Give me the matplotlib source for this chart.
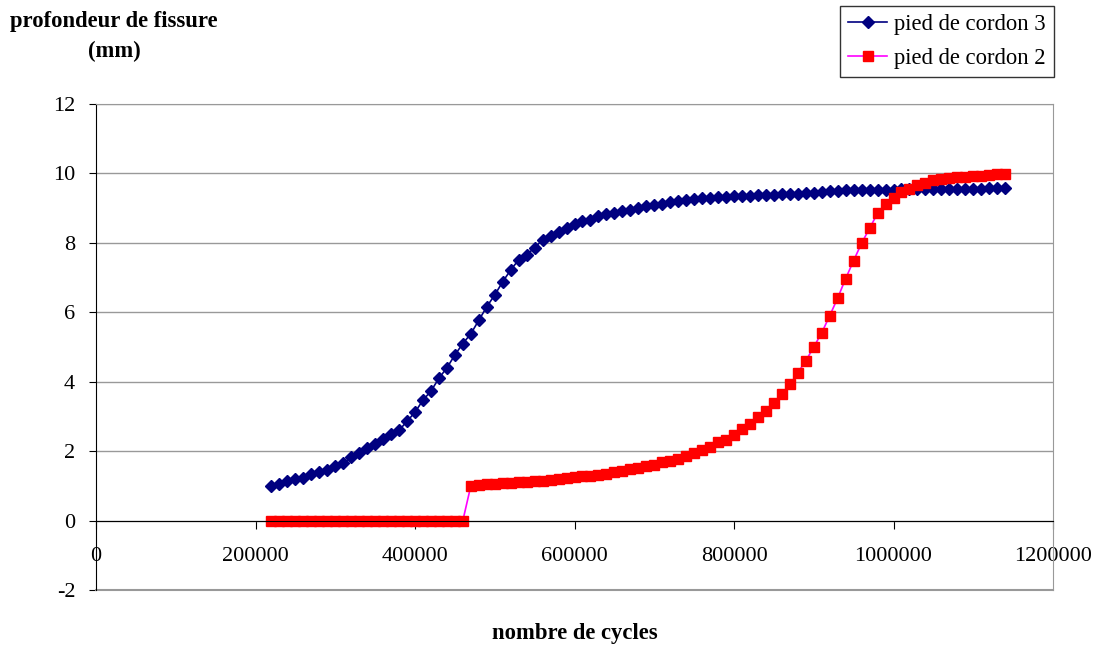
import matplotlib
matplotlib.use("Agg")
import matplotlib.pyplot as plt

plt.rcParams['font.family'] = ['Liberation Serif', 'DejaVu Serif']
plt.rcParams['axes.unicode_minus'] = False

# nombre de cycles (one reading every 10000 cycles)
cycles = [220000, 230000, 240000, 250000, 260000, 270000, 280000, 290000, 300000, 310000,
          320000, 330000, 340000, 350000, 360000, 370000, 380000, 390000, 400000, 410000,
          420000, 430000, 440000, 450000, 460000, 470000, 480000, 490000, 500000, 510000,
          520000, 530000, 540000, 550000, 560000, 570000, 580000, 590000, 600000, 610000,
          620000, 630000, 640000, 650000, 660000, 670000, 680000, 690000, 700000, 710000,
          720000, 730000, 740000, 750000, 760000, 770000, 780000, 790000, 800000, 810000,
          820000, 830000, 840000, 850000, 860000, 870000, 880000, 890000, 900000, 910000,
          920000, 930000, 940000, 950000, 960000, 970000, 980000, 990000, 1000000, 1010000,
          1020000, 1030000, 1040000, 1050000, 1060000, 1070000, 1080000, 1090000, 1100000,
          1110000, 1120000, 1130000, 1140000]

# profondeur de fissure (mm)
cordon3 = [1.01, 1.04, 1.13, 1.19, 1.24, 1.33, 1.40, 1.47, 1.56, 1.65,
           1.82, 1.94, 2.08, 2.20, 2.34, 2.49, 2.60, 2.86, 3.12, 3.47,
           3.73, 4.10, 4.40, 4.77, 5.10, 5.38, 5.77, 6.16, 6.50, 6.88,
           7.22, 7.51, 7.66, 7.86, 8.09, 8.20, 8.32, 8.44, 8.53, 8.64,
           8.67, 8.76, 8.82, 8.87, 8.93, 8.96, 9.00, 9.07, 9.10, 9.13,
           9.17, 9.20, 9.23, 9.26, 9.28, 9.30, 9.31, 9.33, 9.34, 9.35,
           9.36, 9.37, 9.38, 9.39, 9.40, 9.41, 9.42, 9.43, 9.44, 9.46,
           9.48, 9.50, 9.51, 9.51, 9.52, 9.52, 9.53, 9.53, 9.53, 9.54,
           9.54, 9.55, 9.55, 9.55, 9.55, 9.56, 9.56, 9.56, 9.56,
           9.56, 9.57, 9.57, 9.57]

cordon2 = [0, 0, 0, 0, 0, 0, 0, 0, 0, 0,
           0, 0, 0, 0, 0, 0, 0, 0, 0, 0,
           0, 0, 0, 0, 0, 1.00, 1.02, 1.05, 1.06, 1.07,
           1.08, 1.10, 1.12, 1.13, 1.15, 1.17, 1.19, 1.22, 1.25, 1.27,
           1.29, 1.31, 1.34, 1.39, 1.43, 1.48, 1.51, 1.56, 1.61, 1.70,
           1.73, 1.77, 1.87, 1.95, 2.03, 2.12, 2.25, 2.33, 2.46, 2.63,
           2.77, 2.98, 3.15, 3.39, 3.66, 3.92, 4.26, 4.60, 5.00, 5.41,
           5.90, 6.41, 6.97, 7.49, 7.99, 8.42, 8.85, 9.12, 9.30, 9.46,
           9.54, 9.68, 9.73, 9.80, 9.83, 9.88, 9.89, 9.91, 9.94,
           9.94, 9.96, 9.98, 9.98]

fig = plt.figure(figsize=(11, 6.46), dpi=100)
ax = fig.add_axes([96 / 1100, 1 - 590 / 646, (1053 - 96) / 1100, (590 - 104) / 646])

ax.plot(cycles, cordon3, color='#000080', lw=1.2, marker='D', ms=6.5,
        mfc='#000080', mec='#000080', label='pied de cordon 3')
ax.plot(cycles, cordon2, color='#FF00FF', lw=1.2, marker='s', ms=7,
        mfc='#FF0000', mec='#FF0000', label='pied de cordon 2')

ax.set_xlim(0, 1200000)
ax.set_ylim(-2, 12)
ax.set_xticks([0, 200000, 400000, 600000, 800000, 1000000, 1200000])
ax.set_yticks([-2, 0, 2, 4, 6, 8, 10, 12])
ax.set_xticklabels(['0', '200000', '400000', '600000', '800000', '1000000', '1200000'])
ax.yaxis.grid(True, color='#999999', lw=1)
ax.set_axisbelow(True)

ax.spines['bottom'].set_position(('data', 0))
ax.spines['bottom'].set_color('black')
ax.spines['left'].set_color('black')
ax.spines['top'].set_color('#999999')
ax.spines['right'].set_color('#999999')
ax.axhline(-2, color='#999999', lw=1.5, clip_on=False)

ax.tick_params(axis='x', direction='out', length=6, pad=13, labelsize=16)
ax.tick_params(axis='y', direction='out', length=5, pad=10, labelsize=16)

fig.text(114 / 1100, 1 - 21 / 646, 'profondeur de fissure', ha='center', va='center',
         fontsize=16.3, fontweight='bold')
fig.text(114 / 1100, 1 - 51 / 646, '(mm)', ha='center', va='center',
         fontsize=16.3, fontweight='bold')
fig.text(575 / 1100, 1 - 633 / 646, 'nombre de cycles', ha='center', va='center',
         fontsize=16.3, fontweight='bold')

leg = fig.legend(loc='upper right', bbox_to_anchor=(1054 / 1100, 1 - 6 / 646),
                 fontsize=16.3, frameon=True, fancybox=False, edgecolor='black',
                 handlelength=1.75, borderpad=0.36, labelspacing=0.57,
                 handletextpad=0.3, borderaxespad=0)
leg.get_frame().set_linewidth(1)

plt.savefig('out.png', dpi=100)
